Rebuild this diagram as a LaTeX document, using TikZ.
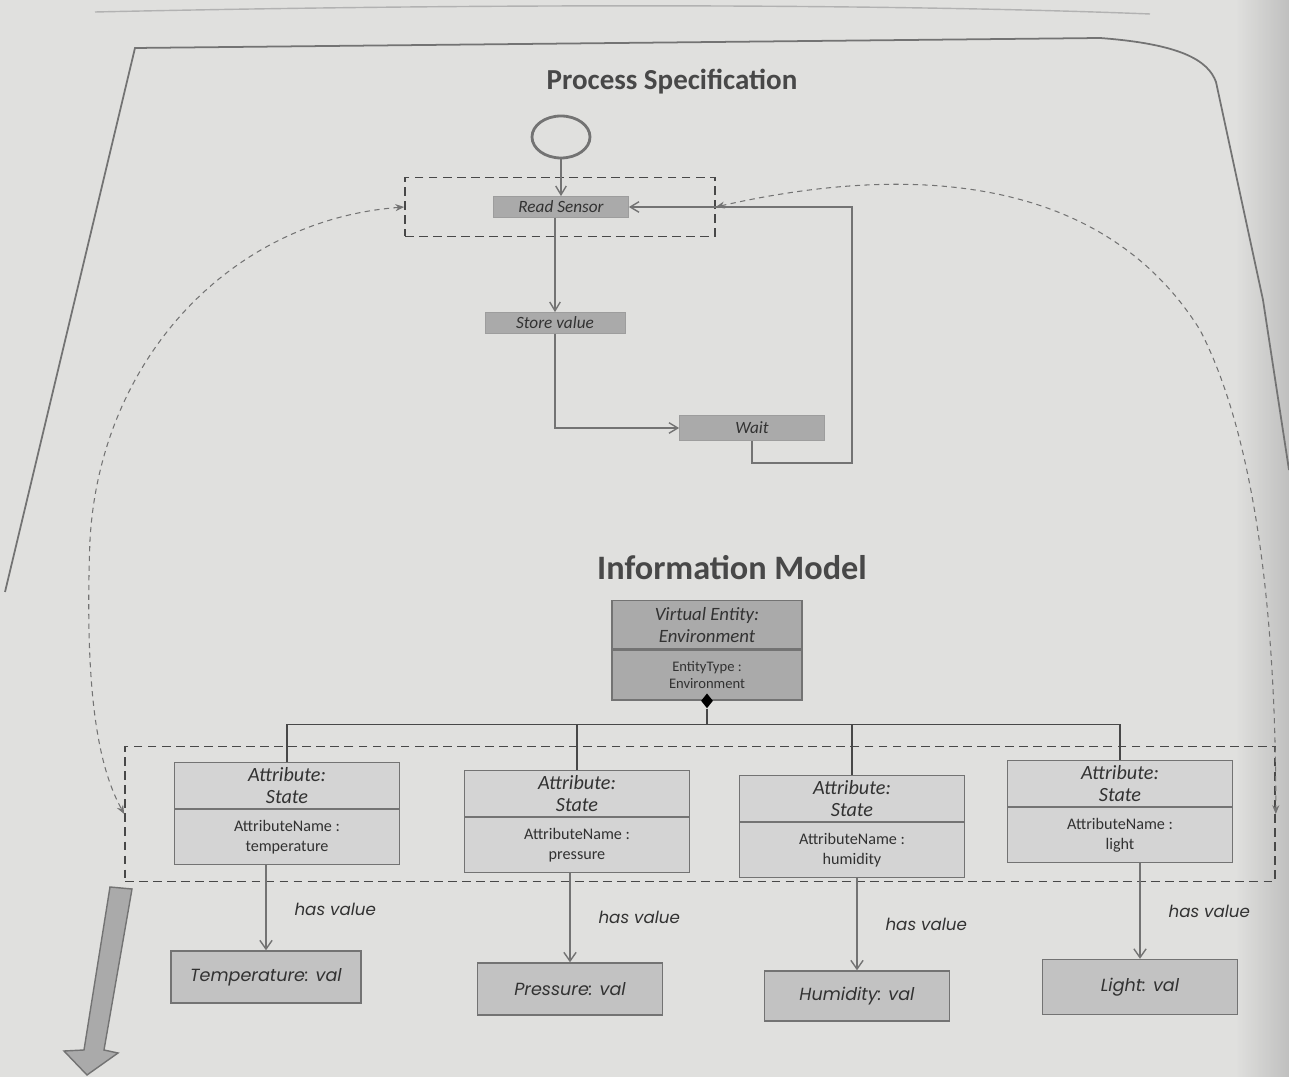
\documentclass[tikz,border=0pt]{standalone}
\usepackage{fontspec}
\setmainfont{Carlito}
\newfontfamily\roundfont{Poppins}
\usetikzlibrary{shapes.geometric,arrows.meta,calc}
% one drawing unit in centimetres
\newcommand\pu{0.02cm}
\definecolor{paper}{RGB}{224,224,222}
\definecolor{ink}{RGB}{72,72,72}
\definecolor{inkdark}{RGB}{50,50,50}
\definecolor{boxdark}{RGB}{170,170,170}
\definecolor{boxmid}{RGB}{194,194,194}
\definecolor{boxlight}{RGB}{212,212,212}
\definecolor{edgegray}{RGB}{115,115,115}

\begin{document}
\begin{tikzpicture}[x=0.02cm,y=-0.02cm,
  headingtext/.style={font=\bfseries\fontsize{16.5}{19}\selectfont, text=ink},
  startstate/.style={ellipse, draw=edgegray, line width=1.6pt, minimum width=58*\pu, minimum height=42*\pu, inner sep=0pt},
  actbox/.style={rectangle, draw=edgegray!70, fill=boxdark, inner sep=0pt, minimum height=21*\pu, font=\itshape\fontsize{9.8}{11}\selectfont, text=inkdark},
  groupbox/.style={rectangle, draw=ink, line width=0.9pt, dash pattern=on 5pt off 3pt, inner sep=0pt},
  flow/.style={draw=edgegray, line width=0.8pt, -{Straight Barb[length=5pt,width=6pt]}},
  mapcurve/.style={draw=edgegray, line width=0.6pt, dash pattern=on 3pt off 2.5pt, {Stealth[length=5pt,width=4pt]}-{Stealth[length=5pt,width=4pt]}},
  vetop/.style={rectangle, draw=edgegray, line width=0.8pt, fill=boxdark, minimum width=190*\pu, minimum height=48*\pu, inner sep=0pt, align=center, font=\itshape\fontsize{10.7}{12.5}\selectfont, text=inkdark},
  vebot/.style={vetop, minimum height=50*\pu, font=\fontsize{8.3}{10}\selectfont},
  attrtop/.style={rectangle, draw=edgegray, line width=0.7pt, fill=boxlight, minimum width=225*\pu, minimum height=46*\pu, inner sep=0pt, align=center, font=\itshape\fontsize{11.5}{12.5}\selectfont, text=inkdark},
  attrbot/.style={attrtop, minimum height=55*\pu, font=\fontsize{9.2}{11}\selectfont},
  valbox/.style={rectangle, draw=edgegray, line width=0.8pt, fill=boxmid, inner sep=0pt, minimum height=52*\pu, font=\roundfont\itshape\fontsize{10}{12}\selectfont, text=inkdark},
  treeline/.style={draw=ink, line width=0.8pt},
  hasval/.style={draw=edgegray, line width=0.8pt, -{Straight Barb[length=5pt,width=7pt]}},
  hvlabel/.style={anchor=west, xshift=22*\pu, font=\roundfont\itshape\fontsize{9.5}{11}\selectfont, text=inkdark},
  pageline/.style={draw=edgegray, line width=1pt}
]
\useasboundingbox (0,0) rectangle (1289,1077);
\fill[paper] (0,0) rectangle (1289,1077);

% page edge, binding shadow and figure frame
\shade[left color=paper, right color=black!30, opacity=0.7] (1236,0) rectangle (1289,1077);
\draw[draw=black!30, line width=0.8pt] (95,12) .. controls (500,3) and (900,4) .. (1150,14);
\draw[pageline] (5,592) -- (135,48) -- (1100,38) .. controls (1180,44) and (1208,60) .. (1216,82) -- (1263,300) -- (1289,470);

% ---------------- process specification ----------------
\node[headingtext] (pstitle) at (672,82) {Process Specification};

\node[startstate] (start) at (561,137) {};
\node[groupbox, minimum width=310*\pu, minimum height=59*\pu] (grpP) at (560,207) {};
\node[actbox, minimum width=135*\pu] (read) at (561,207) {Read Sensor};
\node[actbox, minimum width=140*\pu] (store) at (555,323) {Store value};
\node[actbox, minimum width=145*\pu, minimum height=25*\pu] (wait) at (752,428) {Wait};
\coordinate (loopc) at (852,463);

\draw[flow] (start) -- (start |- read.north);
\draw[flow] (read.south -| store.north) -- (store.north);
\draw[flow] (store.south) |- (wait.west);
\draw[flow] (wait.south) |- (loopc) |- (read.east);

% ---------------- information model ----------------
\node[headingtext, font=\bfseries\fontsize{19.5}{22}\selectfont] (imtitle) at (732,568) {Information Model};

\node[vetop, anchor=north] (veA) at (707,600) {Virtual Entity:\\Environment};
\node[vebot, anchor=north] (veB) at (veA.south) {EntityType :\\Environment};
\node[diamond, fill=black, inner sep=0pt, minimum width=12*\pu, minimum height=15*\pu] (dmd) at (veB.south) {};
\coordinate (bar) at ($(dmd.south)+(0,16)$);

\node[groupbox, minimum width=1150*\pu, minimum height=135*\pu] (grpA) at (700,814) {};

\node[attrtop, anchor=north] (a1t) at (287,762) {Attribute:\\State};
\node[attrbot, anchor=north] (a1b) at (a1t.south) {AttributeName :\\temperature};
\node[attrtop, anchor=north] (a2t) at (577,770) {Attribute:\\State};
\node[attrbot, anchor=north] (a2b) at (a2t.south) {AttributeName :\\pressure};
\node[attrtop, anchor=north] (a3t) at (852,775) {Attribute:\\State};
\node[attrbot, anchor=north] (a3b) at (a3t.south) {AttributeName :\\humidity};
\node[attrtop, anchor=north] (a4t) at (1120,760) {Attribute:\\State};
\node[attrbot, anchor=north] (a4b) at (a4t.south) {AttributeName :\\light};

\draw[treeline] (dmd.south) -- (bar);
\draw[treeline] (a1t.north) |- (bar) -| (a4t.north);
\draw[treeline] (a2t.north) -- (a2t.north |- bar);
\draw[treeline] (a3t.north) -- (a3t.north |- bar);

\node[valbox, minimum width=190*\pu] (v1) at (266,977) {Temperature: val};
\node[valbox, minimum width=185*\pu] (v2) at (570,989) {Pressure: val};
\node[valbox, minimum width=185*\pu, minimum height=50*\pu] (v3) at (857,996) {Humidity: val};
\node[valbox, minimum width=195*\pu, minimum height=55*\pu] (v4) at (1140,987) {Light: val};

\draw[hasval] (a1b.south -| v1.north) -- node[hvlabel, pos=0.52] {has value} (v1.north);
\draw[hasval] (a2b.south -| v2.north) -- node[hvlabel, pos=0.5] {has value} (v2.north);
\draw[hasval] (a3b.south -| v3.north) -- node[hvlabel, pos=0.5] {has value} (v3.north);
\draw[hasval] (a4b.south -| v4.north) -- node[hvlabel, pos=0.5] {has value} (v4.north);

% mapping between the process and the model
\draw[mapcurve] (grpP.west) .. controls (230,220) and (100,360) .. (90,540) .. controls (84,700) and (100,770) .. (grpA.west);
\draw[mapcurve] (grpP.east) .. controls (900,165) and (1100,170) .. (1200,330) .. controls (1262,450) and (1276,650) .. (grpA.east);

% wide downward arrow at the lower left
\filldraw[fill=boxdark, draw=edgegray, line width=0.8pt]
  (110,887) -- (132,889) -- (104,1050) -- (118,1053) -- (87,1075) -- (64,1051) -- (84,1050) -- cycle;
\end{tikzpicture}
\end{document}
